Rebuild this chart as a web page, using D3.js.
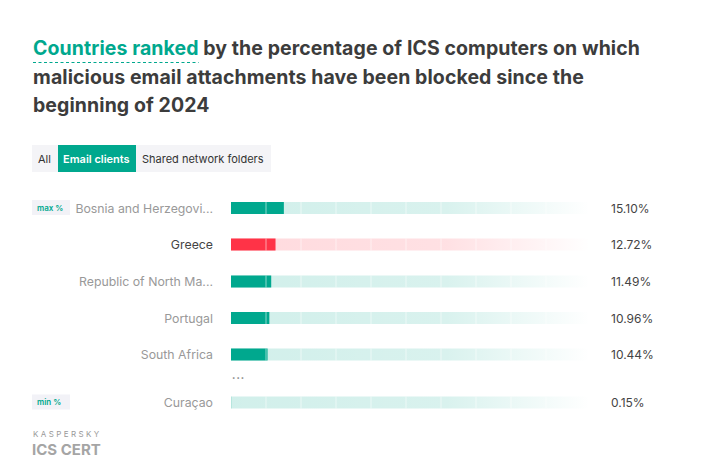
<!DOCTYPE html>
<html><head><meta charset="utf-8">
<script src="https://cdn.jsdelivr.net/npm/d3@7"></script>
<style>
body{margin:0;background:#fff;}
svg text{font-family:Inter, "Noto Sans", sans-serif;}
</style></head>
<body><svg id="c" width="713" height="473"></svg>
<script>
const countries = ["Bosnia and Herzegovi...", "Greece", "Republic of North Ma...", "Portugal", "South Africa", "Curaçao"];
const values = [15.10, 12.72, 11.49, 10.96, 10.44, 0.15];
const valueLabels = ["15.10%", "12.72%", "11.49%", "10.96%", "10.44%", "0.15%"];
const highlight = ["Greece"];
const tabs = ["All", "Email clients", "Shared network folders"];
const activeTab = "Email clients";
const titleLines = [["Countries ranked", " by the percentage of ICS computers on which"], ["", "malicious email attachments have been blocked since the"], ["", "beginning of 2024"]];

const svg = d3.select("#c");
const green = "#00a88e", red = "#ff3347", dark = "#3c3c3c";

// Title
const titleBaselines = [55, 84, 112];
const titleTexts = titleLines.map((ln, i) => {
  const t = svg.append("text").attr("x", 33).attr("y", titleBaselines[i])
    .attr("font-size", 19.5).attr("font-weight", 700).attr("fill", dark);
  if (ln[0]) t.append("tspan").attr("class", "hl").attr("fill", green).text(ln[0]);
  t.append("tspan").text(ln[1]);
  return t;
});
// fit first line to reference width via letter-spacing
const w0 = titleTexts[0].node().getComputedTextLength();
const nch = (titleLines[0][0] + titleLines[0][1]).length;
const ls = (607 - w0) / nch;
titleTexts.forEach(t => t.attr("letter-spacing", ls));
const hlW = titleTexts[0].select("tspan.hl").node().getComputedTextLength();
// dashed underline under green part
svg.append("line").attr("x1", 33).attr("x2", 33 + hlW).attr("y1", 62.5).attr("y2", 62.5)
  .attr("stroke", green).attr("stroke-width", 1.2).attr("stroke-dasharray", "3,2.5");

// Tabs
const tabG = svg.append("g");
tabG.append("rect").attr("x", 32).attr("y", 145).attr("width", 239).attr("height", 27).attr("fill", "#f4f4f7");
const tabX = [37, 58, 136];
const tabW = [21, 78, 135];
tabs.forEach((t, i) => {
  if (t === activeTab) tabG.append("rect").attr("x", tabX[i]).attr("y", 145).attr("width", tabW[i]).attr("height", 27).attr("fill", green);
  tabG.append("text").attr("x", tabX[i] + (t === activeTab ? 5 : (i === 0 ? 1 : 6))).attr("y", 162.5)
    .attr("font-size", 11).attr("fill", t === activeTab ? "#fff" : "#333")
    .attr("font-weight", t === activeTab ? 600 : 400).text(t);
});

// Scales
const x = d3.scaleLinear().domain([0, 100]).range([231, 581]);
const rowY = [208, 244.5, 281.5, 318, 354.5, 402.5];
const barH = 12;

const defs = svg.append("defs");
function grad(id, color) {
  const g = defs.append("linearGradient").attr("id", id).attr("gradientUnits", "userSpaceOnUse")
    .attr("x1", x(0)).attr("x2", 590).attr("y1", 0).attr("y2", 0);
  g.append("stop").attr("offset", "0").attr("stop-color", color).attr("stop-opacity", 0.18);
  g.append("stop").attr("offset", "0.6").attr("stop-color", color).attr("stop-opacity", 0.15);
  g.append("stop").attr("offset", "1").attr("stop-color", color).attr("stop-opacity", 0);
}
grad("gG", green); grad("gR", red);

const rows = svg.append("g").selectAll("g").data(countries).join("g")
  .attr("transform", (d, i) => `translate(0,${rowY[i]})`);

rows.append("rect").attr("x", x(0)).attr("y", -barH / 2).attr("width", 590 - x(0)).attr("height", barH)
  .attr("fill", d => highlight.includes(d) ? "url(#gR)" : "url(#gG)");
rows.append("rect").attr("x", x(0)).attr("y", -barH / 2)
  .attr("width", (d, i) => x(values[i]) - x(0)).attr("height", barH)
  .attr("fill", d => highlight.includes(d) ? red : green).attr("fill-opacity", (d, i) => values[i] < 1 ? 0.25 : 1);
// segment dividers
const ticks = d3.range(10, 100, 10);
rows.each(function () {
  d3.select(this).selectAll("line.div").data(ticks).join("line").attr("class", "div")
    .attr("x1", d => x(d)).attr("x2", d => x(d)).attr("y1", -barH / 2).attr("y2", barH / 2)
    .attr("stroke", "#fff").attr("stroke-opacity", 0.55).attr("stroke-width", 1);
});
rows.append("text").attr("x", 213).attr("y", 4.5).attr("text-anchor", "end").attr("font-size", 12.3)
  .attr("fill", d => highlight.includes(d) ? "#444" : "#999").text(d => d);
rows.append("text").attr("x", 611).attr("y", 4.5).attr("font-size", 12).attr("fill", "#444")
  .text((d, i) => valueLabels[i]);

// ellipsis
svg.append("text").attr("x", 232).attr("y", 380).attr("font-size", 6).attr("fill", "#888")
  .attr("letter-spacing", 1).text("•••");

// badges
[["max %", rowY[0]], ["min %", rowY[5]]].forEach(([t, y]) => {
  svg.append("rect").attr("x", 32).attr("y", y - 8).attr("width", 38).attr("height", 15).attr("fill", "#f2f2f7");
  svg.append("text").attr("x", 37).attr("y", y + 2.5).attr("font-size", 8).attr("font-weight", 600).attr("fill", green).text(t);
});

// footer
svg.append("text").attr("x", 33).attr("y", 437).attr("font-size", 8).attr("letter-spacing", 2.4).attr("fill", "#999").text("KASPERSKY");
svg.append("text").attr("x", 32).attr("y", 455).attr("font-size", 15).attr("font-weight", 700).attr("fill", "#a5a5a5").text("ICS CERT");
</script></body></html>
